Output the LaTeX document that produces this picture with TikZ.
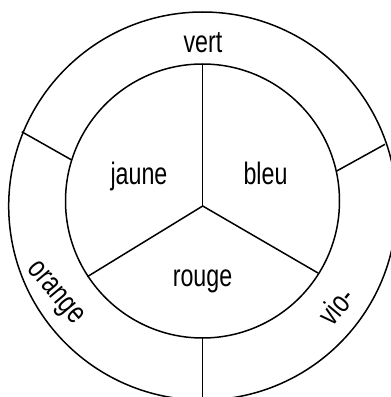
\documentclass[tikz,border=0pt]{standalone}
\usepackage{fontspec}
\newfontfamily\ringfont{Liberation Sans}[FakeStretch=0.75]
\usetikzlibrary{calc}

\begin{document}
\begin{tikzpicture}[
        x=1pt, y=1pt,
        ring line/.style={line width=1.5pt, black},
        colour name/.style={font=\ringfont\fontsize{31}{35}\selectfont, inner sep=0pt}
      ]

      \def\Rin{137}      % inner circle
      \def\Rout{194}     % outer circle

      \useasboundingbox (0,0) rectangle (391,397);
      \clip (0,0) rectangle (391,397);

      % centres
      \coordinate (hub) at (202.7,191);
      \coordinate (C_in) at (202.5,196);

      % circles
      \draw[ring line] (hub) circle (\Rout);
      \draw[ring line] (C_in) circle (\Rin);

      % inner spokes
      \coordinate (S_top) at (202.7,332);
      \coordinate (S_left) at (87.3,120.3);
      \coordinate (S_right) at (318,124);
      \draw[ring line] (hub) -- (S_top);
      \draw[ring line] (hub) -- (S_left);
      \draw[ring line] (hub) -- (S_right);

      % ring dividers
      \coordinate (D_lo) at (21.7,265.3);
      \coordinate (D_li) at (71.7,237);
      \coordinate (D_ro) at (385,252.7);
      \coordinate (D_ri) at (336.7,226);
      \coordinate (D_bi) at (202.7,60);
      \coordinate (D_bo) at (202.7,-5);
      \draw[ring line] (D_lo) -- (D_li);
      \draw[ring line] (D_ro) -- (D_ri);
      \draw[ring line] (D_bi) -- (D_bo);

      % labels
      \node[colour name, anchor=base] (jaune) at (139,212) {jaune};
      \node[colour name, anchor=base] (bleu) at (265.5,212) {bleu};
      \node[colour name, anchor=base] (rouge) at (202.5,110) {rouge};
      \node[colour name, anchor=base] (vert) at (203,344) {vert};
      \node[colour name, rotate=-50] (orange) at (54,103) {orange};
      \node[colour name, rotate=50] (violet) at (336,91) {vio-};
    \end{tikzpicture}
\end{document}
